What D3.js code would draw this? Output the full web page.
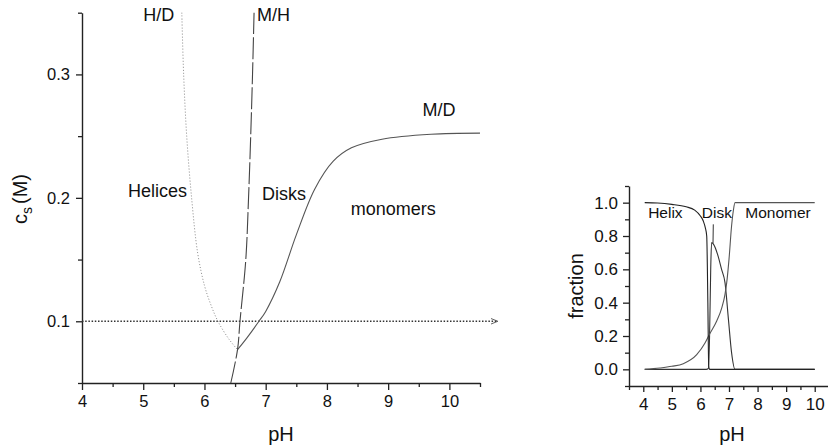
<!DOCTYPE html>
<html><head><meta charset="utf-8">
<script src="https://cdn.jsdelivr.net/npm/d3@7"></script>
<style>
html,body{margin:0;padding:0;background:#fff;}
svg{display:block;font-family:"Liberation Sans",Arial,Helvetica,sans-serif;}
</style></head>
<body><svg id="c" width="828" height="446"></svg>
<script>
// ---------- Left panel: phase diagram (pH vs salt concentration c_s) ----------
const hdPH = [5.63, 5.66, 5.71, 5.79, 5.89, 6.0, 6.1, 6.22, 6.4, 6.54];
const hdCs = [0.35, 0.30, 0.25, 0.20, 0.155, 0.129, 0.114, 0.10, 0.0855, 0.077];
const mhPH = [6.43, 6.54, 6.58, 6.675, 6.72, 6.755, 6.785, 6.81];
const mhCs = [0.05, 0.077, 0.10, 0.15, 0.20, 0.25, 0.30, 0.35];
const mdPH = [6.54, 6.7, 6.89, 7.0, 7.23, 7.5, 7.8, 8.1, 8.4, 8.9, 9.7, 10.5];
const mdCs = [0.077, 0.087, 0.10, 0.108, 0.132, 0.17, 0.207, 0.2295, 0.2405, 0.2475, 0.2515, 0.2524];
const refCs = 0.1;
const leftXTicks = [4, 5, 6, 7, 8, 9, 10];
const leftYTicks = [0.1, 0.2, 0.3];

// ---------- Right panel: fractions vs pH ----------
const helixPH = [4.05, 4.5, 5.0, 5.5, 5.8, 6.0, 6.1, 6.17, 6.22, 6.26, 6.29, 6.32, 10.0];
const helixF  = [1.0, 0.998, 0.99, 0.975, 0.955, 0.92, 0.89, 0.85, 0.80, 0.40, 0.02, 0.0, 0.0];
const diskPH = [4.05, 6.2, 6.28, 6.32, 6.36, 6.39, 6.46, 6.6, 6.74, 6.86, 6.98, 7.09, 7.21, 10.0];
const diskF  = [0.0, 0.0, 0.005, 0.2, 0.6, 0.76, 0.75, 0.69, 0.6, 0.52, 0.30, 0.10, 0.0, 0.0];
const monoPH = [4.05, 4.58, 5.0, 5.4, 5.87, 6.16, 6.31, 6.57, 6.75, 6.86, 6.92, 7.0, 7.09, 7.15, 7.21, 10.0];
const monoF  = [0.0, 0.008, 0.018, 0.034, 0.088, 0.158, 0.208, 0.29, 0.37, 0.45, 0.52, 0.66, 0.86, 0.95, 1.0, 1.0];
const rightXTicks = [4, 5, 6, 7, 8, 9, 10];
const rightYTicks = [0.0, 0.2, 0.4, 0.6, 0.8, 1.0];

const svg = d3.select("#c");
const AX = "#222";

function zip(a, b){ return a.map((v,i)=>[v,b[i]]); }

// ===== LEFT =====
const xL = d3.scaleLinear().domain([4, 10.5]).range([82, 480]);
const yL = d3.scaleLinear().domain([0.05, 0.35]).range([383, 12.7]);
const gL = svg.append("g");

function styleAxis(g){
  g.selectAll("path.domain").attr("stroke", AX).attr("stroke-width", 1.4);
  g.selectAll(".tick line").attr("stroke", AX).attr("stroke-width", 1.3);
  g.selectAll(".tick text").attr("fill", "#111").attr("font-family", "Liberation Sans, Arial, sans-serif");
}

const lxMinor = d3.range(4.5, 10.51, 1);
const lyMinor = [0.05, 0.15, 0.25, 0.35];

const gxL = gL.append("g").attr("transform", `translate(0,${yL(0.05)})`)
  .call(d3.axisBottom(xL).tickValues(leftXTicks).tickSize(7).tickSizeOuter(0).tickPadding(5).tickFormat(d3.format("d")));
gxL.selectAll(".tick text").attr("font-size", 16.5);
styleAxis(gxL);
const gxLm = gL.append("g").attr("transform", `translate(0,${yL(0.05)})`)
  .call(d3.axisBottom(xL).tickValues(lxMinor).tickSize(4).tickFormat(""));
gxLm.select("path.domain").remove(); styleAxis(gxLm);

const gyL = gL.append("g").attr("transform", `translate(${xL(4)},0)`)
  .call(d3.axisLeft(yL).tickValues(leftYTicks).tickSize(6).tickSizeOuter(0).tickPadding(6).tickFormat(d3.format(".1f")));
gyL.selectAll(".tick text").attr("font-size", 16.5);
styleAxis(gyL);
const gyLm = gL.append("g").attr("transform", `translate(${xL(4)},0)`)
  .call(d3.axisLeft(yL).tickValues(lyMinor).tickSize(4).tickFormat(""));
gyLm.select("path.domain").remove(); styleAxis(gyLm);

// axis titles
gL.append("text").attr("x", 281).attr("y", 441).attr("text-anchor", "middle")
  .attr("font-size", 20).attr("fill", "#111").text("pH");
const yt = gL.append("text").attr("transform", "translate(27,199) rotate(-90)")
  .attr("text-anchor", "middle").attr("font-size", 20).attr("fill", "#111");
yt.append("tspan").text("c");
yt.append("tspan").attr("font-size", 14).attr("dy", 5).text("s");
yt.append("tspan").attr("dy", -5).attr("dx", 3).text("(M)");

// reference dotted line with arrow
svg.append("defs").append("marker").attr("id", "arr").attr("viewBox", "0 0 10 10")
  .attr("refX", 9).attr("refY", 5).attr("markerWidth", 7).attr("markerHeight", 7)
  .attr("markerUnits", "userSpaceOnUse").attr("orient", "auto")
  .append("path").attr("d", "M0,1 L10,5 L0,9").attr("fill", "none").attr("stroke", "#444").attr("stroke-width", 1.2);
gL.append("line").attr("x1", xL(4)).attr("x2", xL(10.78)).attr("y1", yL(refCs)).attr("y2", yL(refCs))
  .attr("stroke", "#333").attr("stroke-width", 1.5).attr("stroke-dasharray", "1.5,1.7").attr("marker-end", "url(#arr)");

const lineL = d3.line().x(d=>xL(d[0])).y(d=>yL(d[1])).curve(d3.curveCatmullRom.alpha(0.5));
gL.append("path").attr("d", lineL(zip(hdPH, hdCs)))
  .attr("fill", "none").attr("stroke", "#888").attr("stroke-width", 1).attr("stroke-dasharray", "1,2");
gL.append("path").attr("d", lineL(zip(mhPH, mhCs)))
  .attr("fill", "none").attr("stroke", "#444").attr("stroke-width", 1.1).attr("stroke-dasharray", "22,3");
gL.append("path").attr("d", lineL(zip(mdPH, mdCs)))
  .attr("fill", "none").attr("stroke", "#555").attr("stroke-width", 1.1);

const lblL = [
  ["H/D", 5.0, 0.3435], ["M/H", 6.86, 0.3435], ["Helices", 4.75, 0.2005],
  ["Disks", 6.94, 0.198], ["monomers", 8.39, 0.186], ["M/D", 9.56, 0.2665]
];
lblL.forEach(([t, px, cs]) => gL.append("text").attr("x", xL(px)).attr("y", yL(cs))
  .attr("font-size", 18).attr("fill", "#111").text(t));

// ===== RIGHT =====
const xR = d3.scaleLinear().domain([3.5, 10.5]).range([629, 829]);
const yR = d3.scaleLinear().domain([-0.1, 1.1]).range([386, 186]);
const gR = svg.append("g");

const gxR = gR.append("g").attr("transform", `translate(0,${yR(-0.1)})`)
  .call(d3.axisBottom(xR).tickValues(rightXTicks).tickSize(6).tickSizeOuter(0).tickPadding(6).tickFormat(d3.format("d")));
gxR.selectAll(".tick text").attr("font-size", 17);
styleAxis(gxR);
const gxRm = gR.append("g").attr("transform", `translate(0,${yR(-0.1)})`)
  .call(d3.axisBottom(xR).tickValues(d3.range(3.5, 10.51, 1)).tickSize(4).tickFormat(""));
gxRm.select("path.domain").remove(); styleAxis(gxRm);

const gyR = gR.append("g").attr("transform", `translate(${xR(3.5)},0)`)
  .call(d3.axisLeft(yR).tickValues(rightYTicks).tickSize(6).tickSizeOuter(0).tickPadding(5).tickFormat(d3.format(".1f")));
gyR.selectAll(".tick text").attr("font-size", 17);
styleAxis(gyR);
const gyRm = gR.append("g").attr("transform", `translate(${xR(3.5)},0)`)
  .call(d3.axisLeft(yR).tickValues([-0.1, 0.1, 0.3, 0.5, 0.7, 0.9, 1.1]).tickSize(4).tickFormat(""));
gyRm.select("path.domain").remove(); styleAxis(gyRm);

gR.append("text").attr("x", 732).attr("y", 441).attr("text-anchor", "middle")
  .attr("font-size", 20).attr("fill", "#111").text("pH");
gR.append("text").attr("transform", "translate(583,286) rotate(-90)").attr("text-anchor", "middle")
  .attr("font-size", 20).attr("fill", "#111").text("fraction");

const lineR = d3.line().x(d=>xR(d[0])).y(d=>yR(d[1])).curve(d3.curveMonotoneX);
gR.append("path").attr("d", lineR(zip(diskPH, diskF))).attr("fill", "none").attr("stroke", "#333").attr("stroke-width", 1.1);
gR.append("path").attr("d", lineR(zip(monoPH, monoF))).attr("fill", "none").attr("stroke", "#555").attr("stroke-width", 1.1);
gR.append("path").attr("d", lineR(zip(helixPH, helixF))).attr("fill", "none").attr("stroke", "#222").attr("stroke-width", 1.1);

const lblR = [["Helix", 4.17, 0.907], ["Disk", 6.05, 0.907], ["Monomer", 7.57, 0.907]];
lblR.forEach(([t, px, f]) => gR.append("text").attr("x", xR(px)).attr("y", yR(f))
  .attr("font-size", 15.5).attr("fill", "#111").text(t));
// leader line from "Disk" label to disk peak
gR.append("line").attr("x1", xR(6.45)).attr("x2", xR(6.44)).attr("y1", yR(0.87)).attr("y2", yR(0.755))
  .attr("stroke", "#333").attr("stroke-width", 1);
</script></body></html>
